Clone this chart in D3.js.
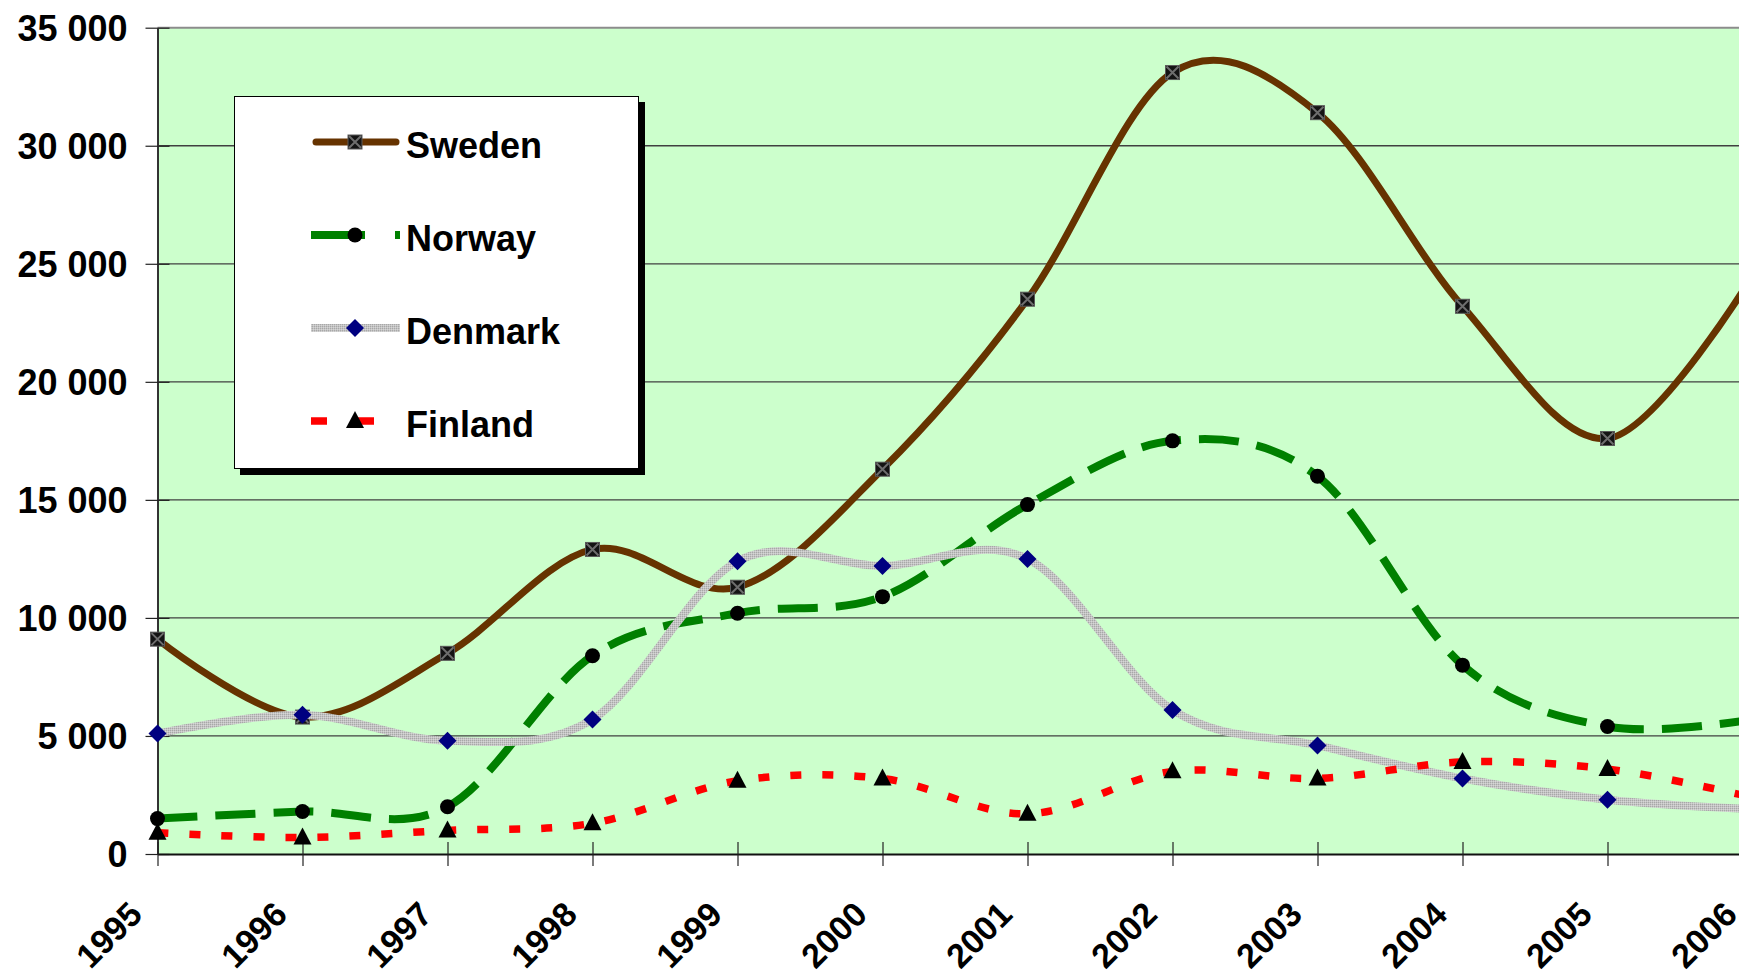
<!DOCTYPE html>
<html>
<head>
<meta charset="utf-8">
<script src="https://cdn.jsdelivr.net/npm/d3@7"></script>
<style>
    body { margin: 0; background: #ffffff; }
    #chart text { font-family: "Liberation Sans", Arial, sans-serif; font-weight: bold; }
</style>
</head>
<body>
<div id="chart"></div>
<script>
// Data
const years = [1995, 1996, 1997, 1998, 1999, 2000, 2001, 2002, 2003, 2004, 2005, 2006];
const sweden = [9100, 5800, 8500, 12900, 11300, 16300, 23500, 33100, 31400, 23200, 17600, 24500];
const norway = [1500, 1800, 2000, 8400, 10200, 10900, 14800, 17500, 16000, 8000, 5400, 5700];
const denmark = [5100, 5900, 4800, 5700, 12400, 12200, 12500, 6100, 4600, 3200, 2300, 1900];
const finland = [900, 700, 1000, 1300, 3100, 3200, 1700, 3500, 3200, 3900, 3600, 2400];
const yTicks = [0, 5000, 10000, 15000, 20000, 25000, 30000, 35000];
const seriesNames = ["Sweden", "Norway", "Denmark", "Finland"];

const width = 1739;
const height = 974;

// plot area (right side runs off the page, like the original)
const plotLeft = 157.5, plotTop = 27.7, plotBottom = 854;

const x = d3.scaleLinear().domain([1995, 2006]).range([plotLeft, plotLeft + 11 * 145]);
const y = d3.scaleLinear().domain([0, 35000]).range([plotBottom, plotTop]);

const fmt = d3.formatLocale({ decimal: ",", thousands: " ", grouping: [3], currency: ["", ""] }).format(",d");

const svg = d3.select("#chart").append("svg")
    .attr("width", width)
    .attr("height", height);

// stippled grey pattern for the Denmark line
const defs = svg.append("defs");
const pat = defs.append("pattern")
    .attr("id", "stipple")
    .attr("patternUnits", "userSpaceOnUse")
    .attr("width", 2).attr("height", 2);
pat.append("rect").attr("width", 2).attr("height", 2).attr("fill", "#c4c4c4");
pat.append("rect").attr("width", 1).attr("height", 1).attr("fill", "#a8a8a8");
pat.append("rect").attr("x", 1).attr("y", 1).attr("width", 1).attr("height", 1).attr("fill", "#d6d6d6");

// background
svg.append("rect")
    .attr("x", plotLeft).attr("y", plotTop)
    .attr("width", width - plotLeft).attr("height", plotBottom - plotTop)
    .attr("fill", "#ccffcc");

// gridlines
svg.append("g")
    .selectAll("line")
    .data(yTicks.filter(d => d > 0 && d < 35000))
    .enter().append("line")
    .attr("x1", plotLeft).attr("x2", width)
    .attr("y1", d => y(d)).attr("y2", d => y(d))
    .attr("stroke", "#404040")
    .attr("stroke-width", 1.3);

// top border
svg.append("line")
    .attr("x1", plotLeft).attr("x2", width)
    .attr("y1", plotTop).attr("y2", plotTop)
    .attr("stroke", "#8c8c8c")
    .attr("stroke-width", 2);

// y axis
const yAxis = svg.append("g")
    .attr("transform", `translate(${plotLeft},0)`)
    .call(d3.axisLeft(y).tickValues(yTicks).tickFormat(fmt).tickSizeInner(12).tickSizeOuter(0).tickPadding(18));
yAxis.select(".domain").attr("stroke", "#333").attr("stroke-width", 2);
yAxis.selectAll(".tick line").attr("x2", 12).attr("x1", -12).attr("stroke", "#222").attr("stroke-width", 1.2);
yAxis.selectAll(".tick text")
    .attr("x", -30)
    .attr("dy", "0.36em")
    .style("font-size", "36px")
    .attr("fill", "#000");

// x axis, labels turned 45 degrees
const xAxis = svg.append("g")
    .attr("transform", `translate(0,${plotBottom})`)
    .call(d3.axisBottom(x).tickValues(years).tickFormat(d3.format("d")).tickSizeOuter(0).tickSizeInner(12));
xAxis.select(".domain").attr("stroke", "#111").attr("stroke-width", 2.2);
xAxis.selectAll(".tick line").attr("y1", -12).attr("y2", 12).attr("stroke", "#222").attr("stroke-width", 1.2);
xAxis.selectAll(".tick text")
    .attr("y", 0).attr("dy", 0)
    .attr("text-anchor", "end")
    .attr("transform", "translate(-14,62.5) rotate(-45)")
    .style("font-size", "34px")
    .attr("fill", "#000");

// line + marker styles per series
const styles = {
    Sweden: { values: sweden, color: "#663300", width: 7, dash: null, marker: "xsquare" },
    Norway: { values: norway, color: "#008000", width: 8, dash: "40,18", marker: "circle" },
    Denmark: { values: denmark, color: "url(#stipple)", width: 8, dash: null, marker: "diamond" },
    Finland: { values: finland, color: "#ff0000", width: 7.5, dash: "11,21", marker: "triangle" }
};

const line = d3.line()
    .x(d => x(d.year))
    .y(d => y(d.value))
    .curve(d3.curveCatmullRom.alpha(0));

function drawMarker(g, type, cx, cy) {
    if (type === "xsquare") {
        g.append("rect")
            .attr("x", cx - 7).attr("y", cy - 7)
            .attr("width", 14).attr("height", 14)
            .attr("fill", "#141414")
            .attr("stroke", "#5a5a5a").attr("stroke-width", 1);
        g.append("path")
            .attr("d", `M${cx - 6},${cy - 6}L${cx + 6},${cy + 6}M${cx + 6},${cy - 6}L${cx - 6},${cy + 6}`)
            .attr("stroke", "#6e6e6e").attr("stroke-width", 2);
    } else if (type === "circle") {
        g.append("circle")
            .attr("cx", cx).attr("cy", cy).attr("r", 7.5)
            .attr("fill", "#000");
    } else if (type === "diamond") {
        g.append("path")
            .attr("d", `M${cx},${cy - 9}L${cx + 9},${cy}L${cx},${cy + 9}L${cx - 9},${cy}Z`)
            .attr("fill", "#000080");
    } else if (type === "triangle") {
        g.append("path")
            .attr("d", `M${cx},${cy - 10}L${cx + 9},${cy + 7}L${cx - 9},${cy + 7}Z`)
            .attr("fill", "#000");
    }
}

// draw each series in order, line then its markers
seriesNames.forEach(name => {
    const s = styles[name];
    const pts = years.map((yr, i) => ({ year: yr, value: s.values[i] }));
    const g = svg.append("g").attr("class", "series");

    g.append("path")
        .datum(pts)
        .attr("d", line)
        .attr("fill", "none")
        .attr("stroke", s.color)
        .attr("stroke-width", s.width)
        .attr("stroke-linecap", name === "Sweden" ? "round" : "butt")
        .attr("stroke-dasharray", s.dash);

    pts.forEach(p => drawMarker(g, s.marker, x(p.year), y(p.value)));
});

// legend box with shadow
const lg = svg.append("g").attr("class", "legend");
lg.append("rect")
    .attr("x", 240).attr("y", 102)
    .attr("width", 405).attr("height", 373)
    .attr("fill", "#000");
lg.append("rect")
    .attr("x", 234.5).attr("y", 96.5)
    .attr("width", 404).attr("height", 372)
    .attr("fill", "#fff")
    .attr("stroke", "#000").attr("stroke-width", 1);

const legendDash = { Sweden: null, Norway: "54,30", Denmark: null, Finland: "16,31" };

seriesNames.forEach((name, i) => {
    const s = styles[name];
    const rowY = 142 + i * 93;
    lg.append("line")
        .attr("x1", name === "Sweden" ? 316 : 311).attr("x2", name === "Sweden" ? 396 : 400)
        .attr("y1", rowY).attr("y2", rowY)
        .attr("stroke", s.color)
        .attr("stroke-width", s.width)
        .attr("stroke-linecap", name === "Sweden" ? "round" : "butt")
        .attr("stroke-dasharray", legendDash[name]);
    drawMarker(lg, s.marker, 355, rowY);
    lg.append("text")
        .attr("x", 406)
        .attr("y", rowY + 16)
        .style("font-size", "36px")
        .attr("fill", "#000")
        .text(name);
});
</script>
</body>
</html>
